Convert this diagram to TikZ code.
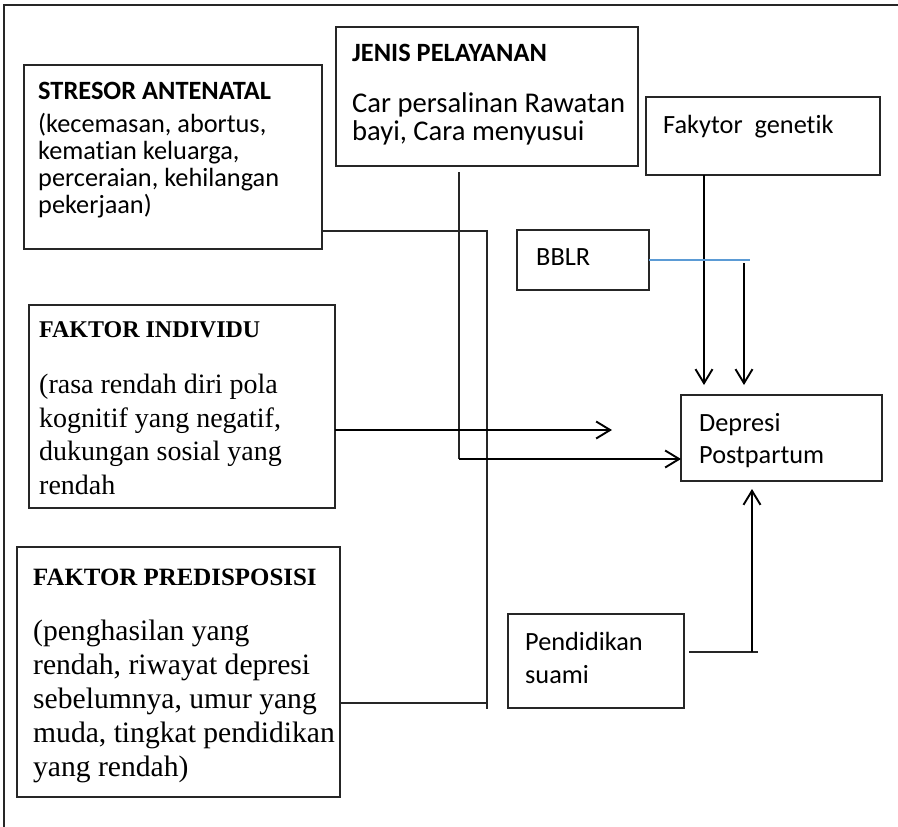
\documentclass[tikz,border=0pt]{standalone}
\usepackage{fontspec}
\setmainfont{Carlito}[Ligatures=NoCommon]
\newfontfamily\tnr{Liberation Serif}[Ligatures=NoCommon]
\usetikzlibrary{arrows.meta}
\definecolor{bluel}{HTML}{5B9BD5}
\begin{document}
\begin{tikzpicture}[x=1pt,y=-1pt,
  box/.style={draw=black!85, line width=1.3pt, anchor=north west, inner sep=0pt, outer sep=0pt},
  cal/.style={anchor=base west, inner sep=0pt, font=\fontsize{26.3}{27}\selectfont},
  calj/.style={anchor=base west, inner sep=0pt, font=\fontsize{28.6}{29}\selectfont},
  calb/.style={cal, font=\fontsize{26.4}{27}\selectfont\bfseries},
  tms/.style={anchor=base west, inner sep=0pt, font=\tnr\fontsize{28}{30}\selectfont},
  tmsp/.style={anchor=base west, inner sep=0pt, font=\tnr\fontsize{29.6}{30}\selectfont},
  tmsb/.style={tms, font=\tnr\fontsize{24}{26}\selectfont\bfseries},
  tmsbp/.style={tms, font=\tnr\fontsize{24.9}{26}\selectfont\bfseries},
  ln/.style={line width=1.3pt, draw=black!85},
  arr/.style={line width=1.9pt, -{Straight Barb[length=14pt,width=17pt]}}
]
\useasboundingbox (0,0) rectangle (898,827);
% outer frame
\coordinate (fA) at (4,827);
\coordinate (fB) at (4,5);
\coordinate (fC) at (898,5);
\draw[ln] (fA) -- (fB) -- (fC);

% boxes
\node[box, minimum width=298pt, minimum height=184pt] (stresor) at (24,65) {};
\node[box, minimum width=302pt, minimum height=139pt] (jenis) at (336,27) {};
\node[box, minimum width=234pt, minimum height=78pt] (fak) at (646,97) {};
\node[box, minimum width=132pt, minimum height=60pt] (bblr) at (517,230) {};
\node[box, minimum width=306pt, minimum height=203pt] (indiv) at (29,305) {};
\node[box, minimum width=201pt, minimum height=86pt] (dep) at (681,395) {};
\node[box, minimum width=323pt, minimum height=250pt] (pred) at (17,547) {};
\node[box, minimum width=176pt, minimum height=94pt] (pend) at (508,614) {};

% texts
\node[calb] (s0) at (38,99) {STRESOR ANTENATAL};
\node[cal] (s1) at (38,132) {(kecemasan, abortus,};
\node[cal] (s2) at (38,159) {kematian keluarga,};
\node[cal] (s3) at (38,186) {perceraian, kehilangan};
\node[cal] (s4) at (38,213) {pekerjaan)};

\node[calb] (j0) at (352,61) {JENIS PELAYANAN};
\node[calj] (j1) at (352,112) {Car persalinan Rawatan};
\node[calj] (j2) at (352,140) {bayi, Cara menyusui};

\node[cal] (f0) at (663,133) {Fakytor\ \ genetik};
\node[cal] (b0) at (536,265) {BBLR};
\node[cal] (d0) at (699,431) {Depresi};
\node[cal] (d1) at (699,463) {Postpartum};
\node[cal] (p0) at (525,650) {Pendidikan};
\node[cal] (p1) at (525,683) {suami};

\node[tmsb] (i0) at (39,337) {FAKTOR INDIVIDU};
\node[tms] (i1) at (39,393) {(rasa rendah diri pola};
\node[tms] (i2) at (39,427) {kognitif yang negatif,};
\node[tms] (i3) at (39,460) {dukungan sosial yang};
\node[tms] (i4) at (39,494) {rendah};

\node[tmsbp] (r0) at (33,585) {FAKTOR PREDISPOSISI};
\node[tmsp] (r1) at (33,640) {(penghasilan yang};
\node[tmsp] (r2) at (33,674) {rendah, riwayat depresi};
\node[tmsp] (r3) at (33,708) {sebelumnya, umur yang};
\node[tmsp] (r4) at (33,742) {muda, tingkat pendidikan};
\node[tmsp] (r5) at (33,776) {yang rendah)};

% connectors
\coordinate (sa) at (487,231);
\coordinate (sb) at (487,709);
\draw[ln] (stresor.east |- sa) -- (sa) -- (sb);
\coordinate (ra) at (486,703);
\draw[ln] (pred.east |- ra) -- (ra);

\coordinate (ja) at (459,172);
\coordinate (jb) at (459,459);
\draw[ln, line width=1.4pt] (ja) -- (jb);
\draw[arr] (jb) -- (dep.west |- jb);

\coordinate (ia) at (612,430);
\draw[arr] (indiv.east |- ia) -- (ia);

\coordinate (fa) at (704,175);
\coordinate (fb) at (704,385);
\draw[arr] (fa) -- (fb);

\coordinate (ba) at (750,260);
\draw[bluel, line width=1.3pt] (bblr.east |- ba) -- (ba);
\coordinate (bb) at (744,263);
\coordinate (bc) at (744,385);
\draw[arr] (bb) -- (bc);

\coordinate (pa) at (689,652);
\coordinate (pb) at (758,652);
\draw[ln] (pa) -- (pb);
\coordinate (pc) at (752,652);
\coordinate (pd) at (752,489);
\draw[arr] (pc) -- (pd);
\end{tikzpicture}
\end{document}
